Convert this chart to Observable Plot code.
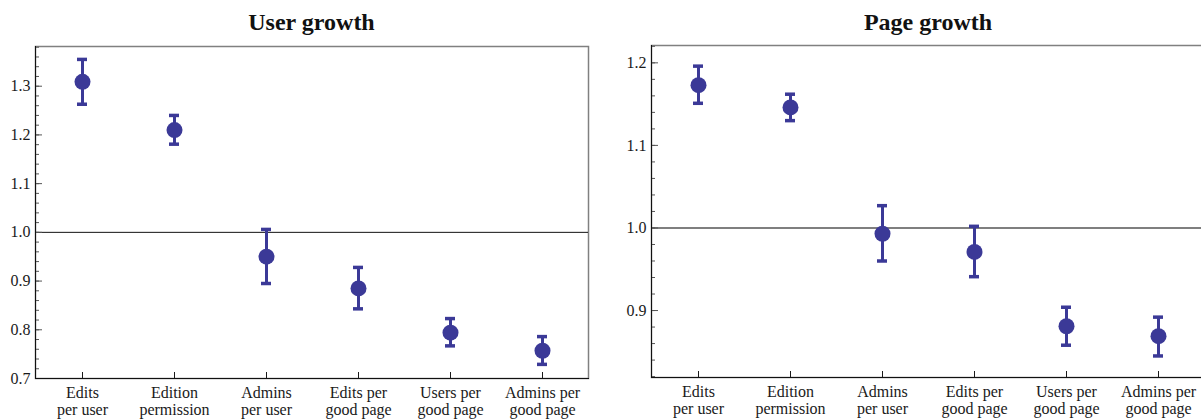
<!DOCTYPE html>
<html><head><meta charset="utf-8">
<script src="https://cdn.jsdelivr.net/npm/d3@7"></script>
<script src="https://cdn.jsdelivr.net/npm/@observablehq/plot@0.6"></script>
<style>
body{margin:0;background:#fff;}
#wrap{position:relative;width:1201px;height:419px;overflow:hidden;background:#fff;}
.panel{position:absolute;top:0;height:419px;}
.title{position:absolute;top:10px;font:bold 24px "Liberation Serif",serif;line-height:24px;text-align:center;color:#111;white-space:nowrap;}
.panel svg{position:absolute;top:40px;left:0;font-family:"Liberation Serif",serif !important;font-size:16px !important;}
.panel svg text, .panel svg tspan{font-family:"Liberation Serif",serif !important;font-size:16px !important;}
</style></head><body><div id="wrap"></div>
<script>
const categories = ["Edits per user", "Edition permission", "Admins per user", "Edits per good page", "Users per good page", "Admins per good page"];
const tickLabels = ["Edits\nper user", "Edition\npermission", "Admins\nper user", "Edits per\ngood page", "Users per\ngood page", "Admins per\ngood page"];

const userMean = [1.309, 1.210, 0.950, 0.885, 0.794, 0.757];
const userLow  = [1.263, 1.181, 0.895, 0.843, 0.767, 0.729];
const userHigh = [1.355, 1.240, 1.006, 0.928, 0.823, 0.786];

const pageMean = [1.173, 1.146, 0.993, 0.971, 0.881, 0.869];
const pageLow  = [1.151, 1.130, 0.960, 0.941, 0.858, 0.845];
const pageHigh = [1.196, 1.162, 1.027, 1.002, 0.904, 0.892];

const userTicks = [0.7, 0.8, 0.9, 1.0, 1.1, 1.2, 1.3];
const pageTicks = [0.9, 1.0, 1.1, 1.2];

const color = "#3b3997";

function panel({title, left, width, marginLeft, marginRight, marginTop, marginBottom, domain, majorTicks, mean, low, high, refColor, refWidth}) {
  const data = categories.map((c, i) => ({c, m: mean[i], lo: low[i], hi: high[i]}));
  const minorTicks = d3.range(Math.ceil(domain[0] * 50), Math.floor(domain[1] * 50) + 1).map(v => v / 50);
  const plot = Plot.plot({
    width, height: 379, marginLeft, marginRight, marginTop, marginBottom,
    style: {fontFamily: '"Liberation Serif", serif', fontSize: "16px", color: "#1a1a1a", background: "transparent", overflow: "visible"},
    x: {type: "point", domain: categories, padding: 0.5},
    y: {domain},
    marks: [
      Plot.frame({stroke: "#808080", strokeWidth: 1.5}),
      Plot.ruleY([1], {stroke: refColor, strokeWidth: refWidth}),
      Plot.axisY(minorTicks, {tickSize: -4, tickFormat: () => "", stroke: "#555", label: null}),
      Plot.axisY(majorTicks, {tickSize: -7, tickPadding: 12, tickFormat: d3.format(".1f"), stroke: "#555", label: null}),
      Plot.axisX({tickSize: -6, tickPadding: 13.3, tickFormat: d => tickLabels[categories.indexOf(d)], lineHeight: 1.05, label: null}),
      Plot.frame({anchor: "left", stroke: "#111"}),
      Plot.frame({anchor: "bottom", stroke: "#111"}),
      Plot.ruleX(data, {x: "c", y1: "lo", y2: "hi", stroke: color, strokeWidth: 3}),
      Plot.ruleY(data, {y: "lo", x1: "c", x2: "c", insetLeft: -5, insetRight: -5, stroke: color, strokeWidth: 3.5}),
      Plot.ruleY(data, {y: "hi", x1: "c", x2: "c", insetLeft: -5, insetRight: -5, stroke: color, strokeWidth: 3.5}),
      Plot.dot(data, {x: "c", y: "m", r: 8, fill: color, stroke: "none"})
    ]
  });
  const div = document.createElement("div");
  div.className = "panel";
  div.style.left = left + "px";
  div.style.width = width + "px";
  const t = document.createElement("div");
  t.className = "title";
  t.textContent = title;
  t.style.left = marginLeft + "px";
  t.style.width = (width - marginLeft - marginRight) + "px";
  div.appendChild(t);
  div.appendChild(plot);
  document.getElementById("wrap").appendChild(div);
}

panel({title: "User growth", left: 0, width: 600, marginLeft: 35, marginRight: 12, marginTop: 6, marginBottom: 41,
  domain: [0.7, 1.3815], majorTicks: userTicks, mean: userMean, low: userLow, high: userHigh, refColor: "#111", refWidth: 1});
panel({title: "Page growth", left: 600, width: 610, marginLeft: 51, marginRight: 5, marginTop: 5, marginBottom: 42,
  domain: [0.8189, 1.221], majorTicks: pageTicks, mean: pageMean, low: pageLow, high: pageHigh, refColor: "#555", refWidth: 1.5});
</script></body></html>
